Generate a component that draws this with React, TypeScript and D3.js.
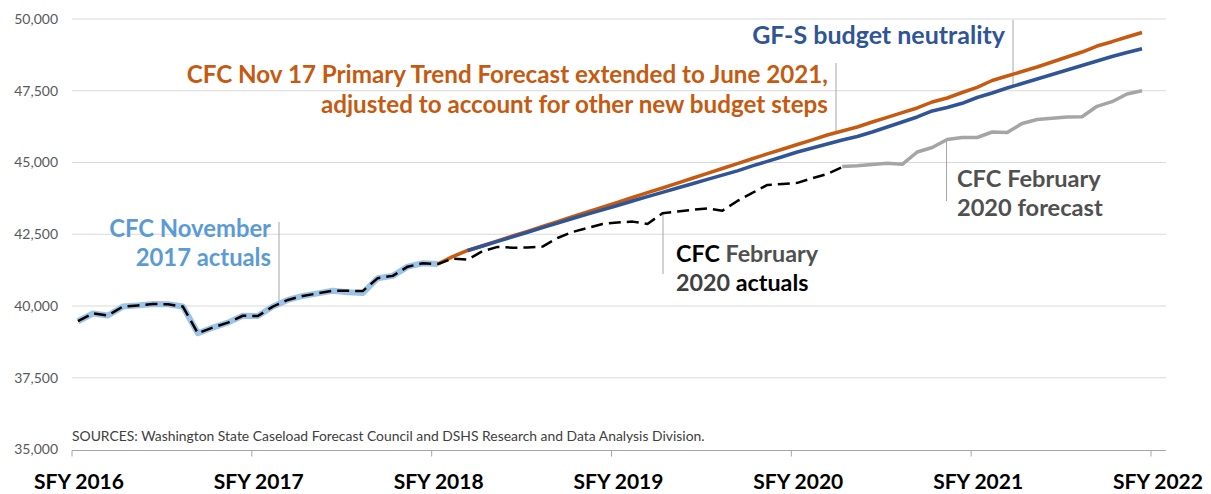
import React from "react";
import * as d3 from "d3";

const xLabels = ["SFY 2016", "SFY 2017", "SFY 2018", "SFY 2019", "SFY 2020", "SFY 2021", "SFY 2022"];
const yTicks = [35000, 37500, 40000, 42500, 45000, 47500, 50000];

// monthly values, index 0 = July 2015
const actualsNov17Start = 0;
const actualsNov17 = [
  39470, 39740, 39670, 39980, 40020, 40070, 40060, 39980, 39050, 39250, 39420, 39660,
  39650, 39980, 40210, 40350, 40440, 40530, 40480, 40450, 40970, 41050, 41370, 41490, 41460,
];

const actualsFeb20Start = 0;
const actualsFeb20 = [
  39470, 39740, 39670, 39980, 40020, 40070, 40060, 39980, 39050, 39250, 39420, 39660,
  39650, 39980, 40210, 40350, 40440, 40530, 40530, 40520, 40970, 41050, 41370, 41490, 41460,
  41650, 41620, 41910, 42060, 42030, 42040, 42070, 42370, 42580, 42720, 42860, 42910,
  42940, 42860, 43230, 43290, 43350, 43400, 43320, 43660, 43940, 44220, 44250, 44290,
  44450, 44600, 44840,
];

const forecastFeb20Start = 51;
const forecastFeb20 = [
  44860, 44889, 44931, 44973, 44938, 45366, 45523, 45802, 45871, 45871, 46063, 46046,
  46359, 46499, 46540, 46586, 46593, 46958, 47119, 47387, 47502,
];

const primaryTrendStart = 24;
const primaryTrend = [
  41460, 41720, 41935, 42100, 42270, 42440, 42600, 42770, 42940, 43110, 43280, 43440,
  43610, 43780, 43950, 44110, 44280, 44450, 44620, 44790, 44960, 45130, 45300, 45460,
  45628, 45791, 45959, 46098, 46237, 46411, 46575, 46739, 46899, 47108, 47248, 47439,
  47617, 47857, 48014, 48171, 48328, 48502, 48676, 48850, 49059, 49209, 49373, 49530,
];

const budgetNeutralityStart = 26;
const budgetNeutrality = [
  41935, 42090, 42250, 42410, 42570, 42730, 42890, 43050, 43200, 43350, 43500, 43660,
  43810, 43960, 44110, 44260, 44410, 44560, 44710, 44880, 45040, 45200, 45366, 45506,
  45645, 45784, 45906, 46063, 46237, 46411, 46586, 46795, 46917, 47063, 47265, 47422,
  47596, 47753, 47910, 48066, 48223, 48380, 48537, 48694, 48833, 48965,
];

const FONT = "Lato, 'Open Sans', sans-serif";

export default function App() {
  const W = 1211;
  const H = 494;
  const left = 72;
  const monthPx = 14.986;
  const x = d3.scaleLinear().domain([0, 73]).range([left, left + 73 * monthPx]);
  const y = d3.scaleLinear().domain([35000, 50000]).range([449.5, 19]);
  const plotRight = x(73);

  const toPts = (arr: number[], start: number) => arr.map((v, i) => [start + i, v] as [number, number]);
  const line = d3
    .line<[number, number]>()
    .x((d) => x(d[0] + 0.4))
    .y((d) => y(d[1]));

  const tickMonths = xLabels.map((_, i) => i * 12);

  return (
    <svg width={W} height={H} style={{ position: "absolute", left: 0, top: 0, background: "#fff" }} fontFamily={FONT}>
      {/* gridlines */}
      {yTicks.slice(1).map((t) => (
        <line key={t} x1={left} x2={plotRight} y1={y(t)} y2={y(t)} stroke="#D9D9D9" strokeWidth={1} />
      ))}
      {/* x axis */}
      <line x1={left} x2={plotRight} y1={y(35000) + 1} y2={y(35000) + 1} stroke="#A6A6A6" strokeWidth={1.2} />
      {tickMonths.map((m) => (
        <line key={m} x1={x(m)} x2={x(m)} y1={y(35000) + 1} y2={y(35000) + 7} stroke="#A6A6A6" strokeWidth={1} />
      ))}
      {/* y labels */}
      {yTicks.map((t) => (
        <text key={t} x={58} y={y(t)} dy="0.35em" textAnchor="end" fontSize={14} fill="#595959">
          {d3.format(",")(t)}
        </text>
      ))}
      {/* x labels */}
      {xLabels.map((l, i) => (
        <text key={l} x={x(tickMonths[i]) + 7} y={489} textAnchor="middle" fontSize={21} fontWeight={700} fill="#000">
          {l}
        </text>
      ))}
      {/* sources */}
      <text x={72} y={441} fontSize={13.9} fill="#404040">
        SOURCES: Washington State Caseload Forecast Council and DSHS Research and Data Analysis Division.
      </text>

      {/* leader lines */}
      <g stroke="#A6A6A6" strokeWidth={1}>
        <line x1={279} x2={279} y1={222} y2={303} />
        <line x1={836} x2={836} y1={63} y2={131} />
        <line x1={1013} x2={1013} y1={20} y2={87} />
        <line x1={663} x2={663} y1={213} y2={274} />
        <line x1={946.5} x2={946.5} y1={140} y2={201} />
      </g>

      {/* series */}
      <path d={line(toPts(actualsNov17, actualsNov17Start)) || ""} fill="none" stroke="#9DC3E6" strokeWidth={6} strokeLinejoin="round" />
      <path d={line(toPts(forecastFeb20, forecastFeb20Start)) || ""} fill="none" stroke="#A5A5A5" strokeWidth={3.5} strokeLinejoin="round" />
      <path d={line(toPts(primaryTrend, primaryTrendStart)) || ""} fill="none" stroke="#C55A11" strokeWidth={3.5} strokeLinejoin="round" />
      <path d={line(toPts(budgetNeutrality, budgetNeutralityStart)) || ""} fill="none" stroke="#2F5597" strokeWidth={3.5} strokeLinejoin="round" />
      <path d={line(toPts(actualsFeb20, actualsFeb20Start)) || ""} fill="none" stroke="#000" strokeWidth={2.5} strokeDasharray="12,6" strokeLinejoin="round" />

      {/* labels */}
      <g fontWeight={700}>
        <text x={1005} y={44} textAnchor="end" fontSize={25} fill="#2F5597">GF-S budget neutrality</text>
        <text x={828} y={83} textAnchor="end" fontSize={24.2} fill="#C55A11">CFC Nov 17 Primary Trend Forecast extended to June 2021,</text>
        <text x={828} y={113} textAnchor="end" fontSize={24.2} fill="#C55A11">adjusted to account for other new budget steps</text>
        <text x={271} y={237} textAnchor="end" fontSize={23.8} fill="#5B9BD5">CFC November</text>
        <text x={271} y={266} textAnchor="end" fontSize={23.8} fill="#5B9BD5">2017 actuals</text>
        <text x={676} y={262} fontSize={23.3}>
          <tspan fill="#000">CFC </tspan>
          <tspan fill="#505050">February</tspan>
        </text>
        <text x={676} y={291} fontSize={23.3}>
          <tspan fill="#404040">2020</tspan>
          <tspan fill="#000"> actuals</tspan>
        </text>
        <text x={957} y={187} fontSize={23.6} fill="#505050">CFC February</text>
        <text x={957} y={216} fontSize={23.6} fill="#505050">2020 forecast</text>
      </g>
    </svg>
  );
}
